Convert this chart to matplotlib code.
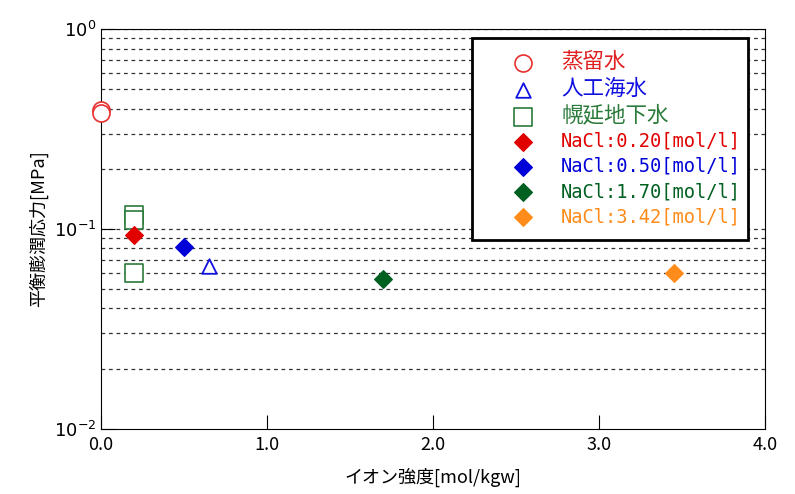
import matplotlib.pyplot as plt
import numpy as np

plt.rcParams['font.family'] = ['Noto Sans CJK JP', 'DejaVu Sans']

# 測定値 (イオン強度 [mol/kgw], 平衡膨潤応力 [MPa])
distilled_x = [0.0, 0.0]
distilled_y = [0.392, 0.382]
seawater_x = [0.65]
seawater_y = [0.065]
horonobe_x = [0.2, 0.2, 0.2]
horonobe_y = [0.118, 0.111, 0.0605]
nacl_labels = ['NaCl:0.20[mol/l]', 'NaCl:0.50[mol/l]',
               'NaCl:1.70[mol/l]', 'NaCl:3.42[mol/l]']
nacl_x = [0.2, 0.5, 1.7, 3.45]
nacl_y = [0.093, 0.0815, 0.0562, 0.0605]
nacl_colors = ['#e00000', '#0000d8', '#006020', '#ff8c1a']

fig, ax = plt.subplots(figsize=(7.95, 4.94), dpi=100)
fig.subplots_adjust(left=0.127, right=0.962, top=0.941, bottom=0.132)

ax.set_yscale('log')
ax.set_xlim(0, 4.0)
ax.set_ylim(0.01, 1.0)

# dashed grid lines at every decade sub-step
for v in [k * 10.0 ** e for e in (-2, -1) for k in range(2, 10)] + [0.1, 1.0]:
    ax.axhline(v, color='#333333', ls=(0, (3, 3)), lw=0.9, zorder=0)

ax.scatter(distilled_x, distilled_y, marker='o', s=150, facecolors='white',
           edgecolors='#e83030', linewidths=1.2, label='蒸留水', zorder=3,
           clip_on=False)
ax.scatter(seawater_x, seawater_y, marker='^', s=110, facecolors='white',
           edgecolors='#1010e0', linewidths=1.3, label='人工海水', zorder=3)
ax.scatter(horonobe_x, horonobe_y, marker='s', s=150, facecolors='white',
           edgecolors='#2a7a3a', linewidths=1.2, label='幌延地下水', zorder=3)
for xv, yv, c, lab in zip(nacl_x, nacl_y, nacl_colors, nacl_labels):
    ax.scatter([xv], [yv], marker='D', s=80, color=c, label=lab, zorder=3)

leg = ax.legend(loc='upper left', bbox_to_anchor=(0.559, 0.978, 0.415, 0.0),
                mode='expand', frameon=True, fancybox=False, framealpha=1,
                edgecolor='black',
                prop={'family': ['DejaVu Sans Mono', 'Noto Sans CJK JP'],
                      'size': 13.5},
                handlelength=3.9, handletextpad=0.1,
                borderpad=0.75, labelspacing=0.33, borderaxespad=0)
leg.get_frame().set_linewidth(2)
leg_colors = ['#e02020', '#1010e0', '#2a7a3a'] + nacl_colors
for i, (t, c) in enumerate(zip(leg.get_texts(), leg_colors)):
    t.set_color(c)
    if i < 3:
        t.set_fontsize(15.5)

ax.set_xticks([0, 1, 2, 3, 4])
ax.set_xticklabels(['0.0', '1.0', '2.0', '3.0', '4.0'])
ax.set_yticks([0.01, 0.1, 1.0])
ax.set_yticklabels(['$10^{-2}$', '$10^{-1}$', '$10^{0}$'])
ax.yaxis.set_minor_locator(plt.NullLocator())
ax.tick_params(axis='both', direction='in', length=10, labelsize=13)
ax.tick_params(axis='x', pad=5)

ax.set_xlabel('イオン強度[mol/kgw]', fontsize=13, labelpad=10)
ax.set_ylabel('平衡膨潤応力[MPa]', fontsize=13)

fig.savefig('out.png', dpi=100)
